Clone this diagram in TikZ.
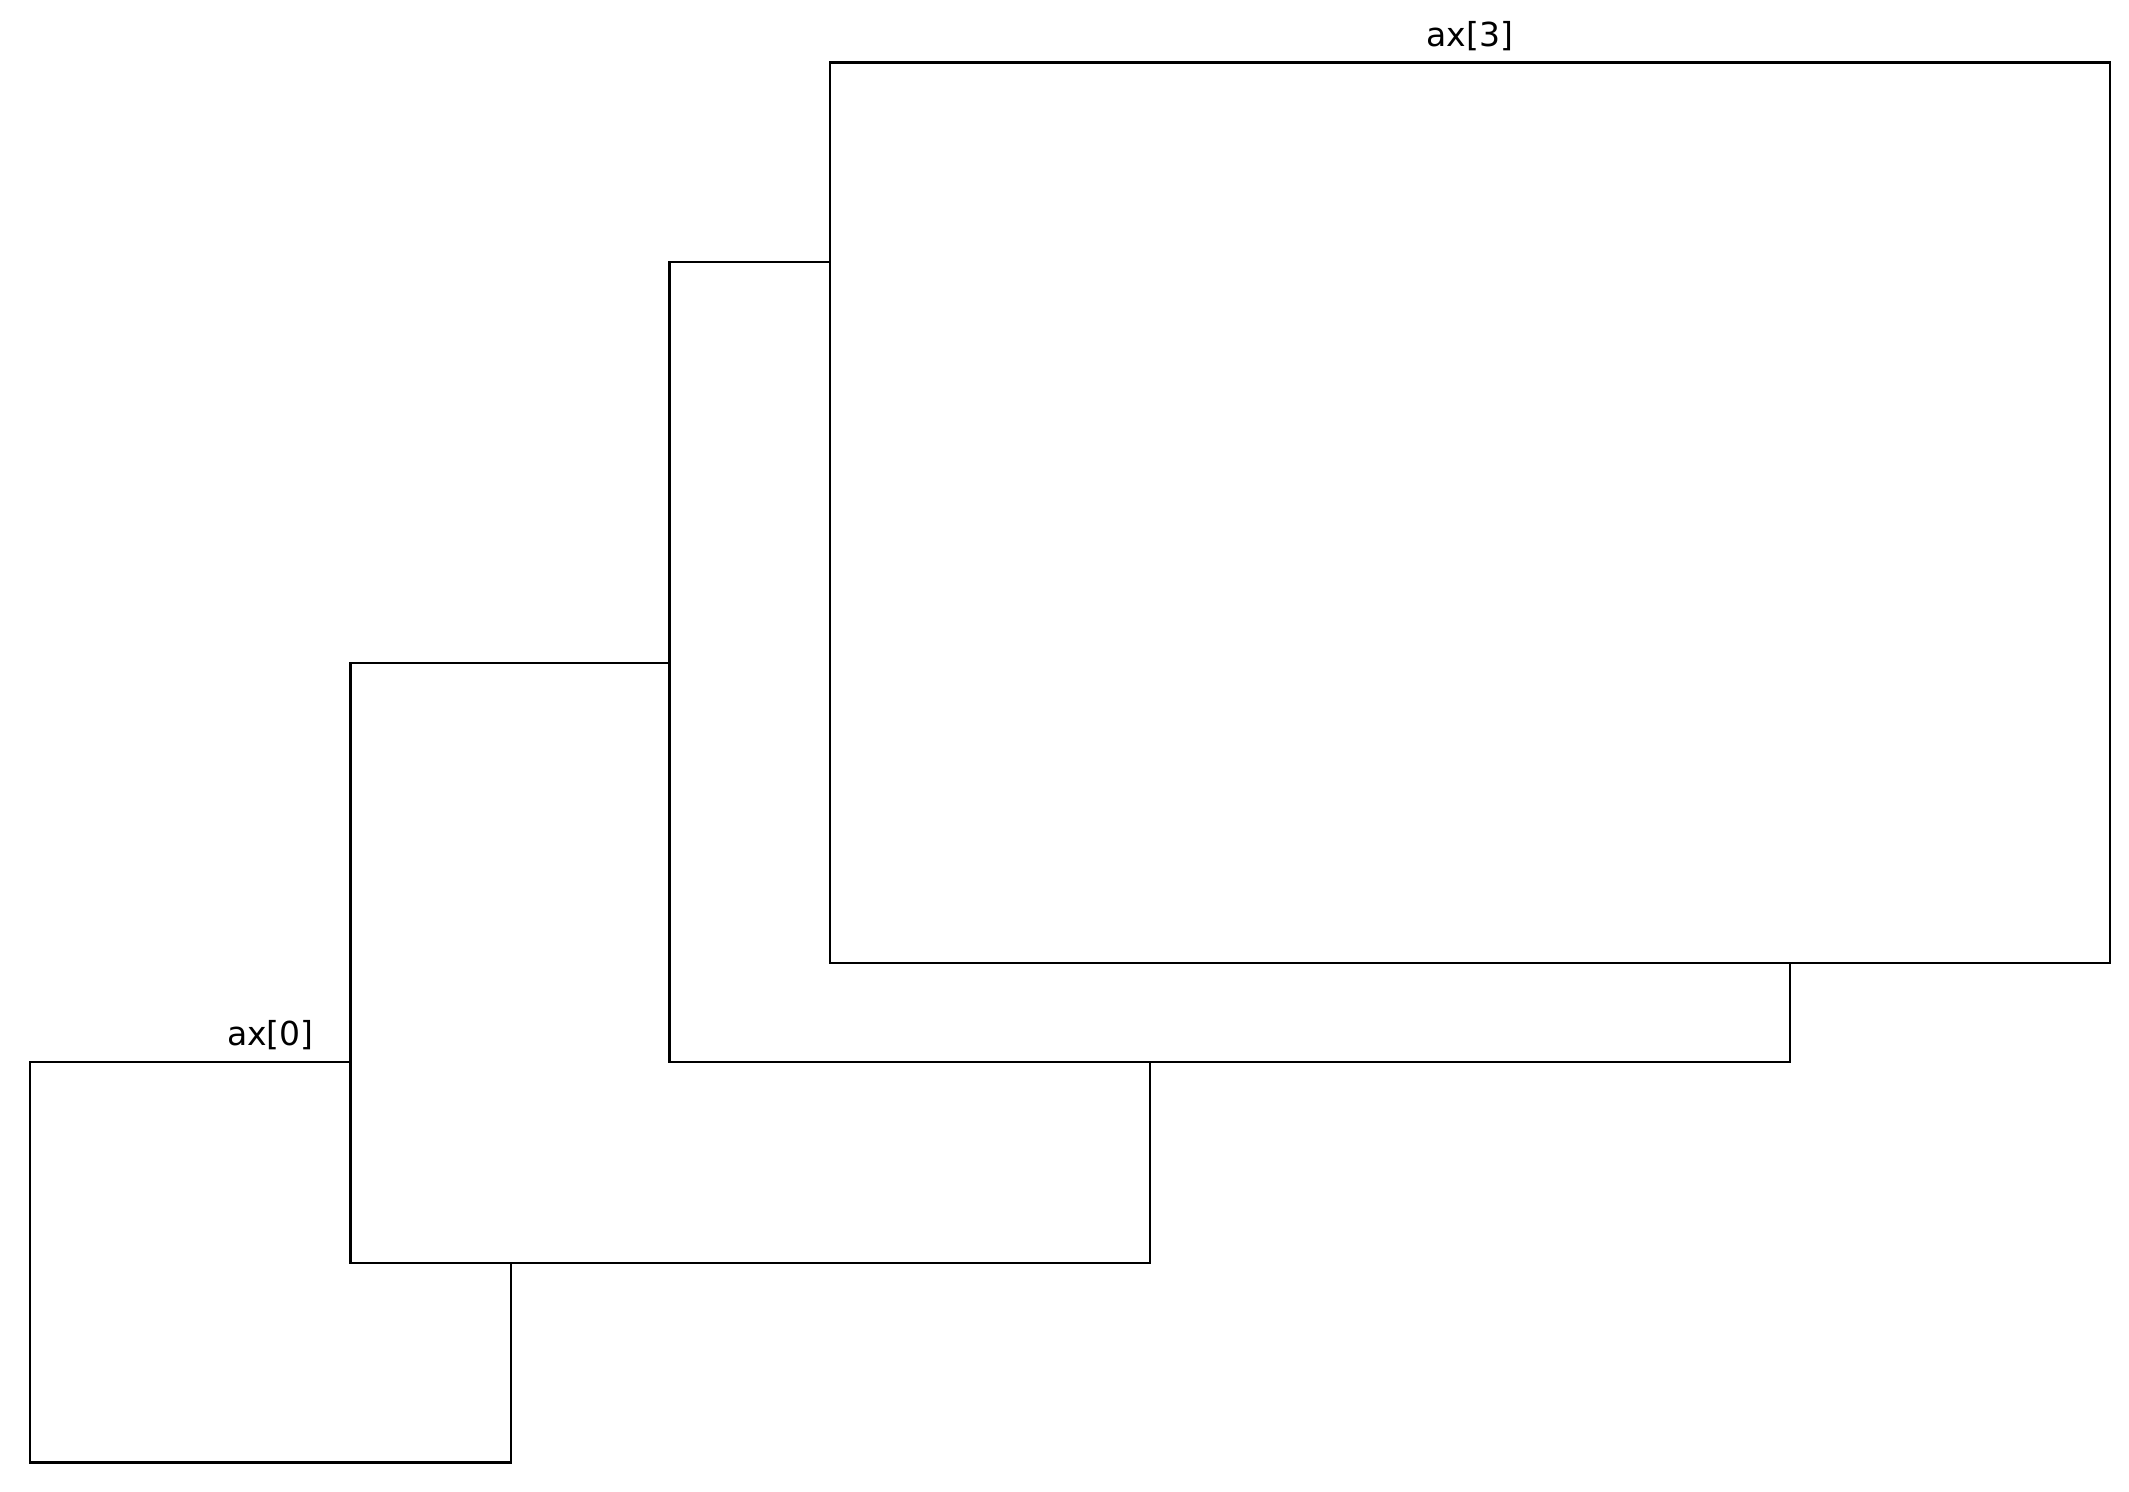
\documentclass[tikz,border=0pt]{standalone}
\usepackage{fontspec}
\setmainfont{DejaVu Sans}
\usetikzlibrary{positioning}
\usetikzlibrary{calc}

\begin{document}
\begin{tikzpicture}[
	axbox/.style={draw=black, fill=white, line width=0.7pt, rectangle, inner sep=0pt, anchor=north west},
	axtitle/.style={anchor=base, inner sep=0pt, font=\fontsize{9.4}{11}\selectfont}]
	\useasboundingbox (0,0) rectangle (21.29,14.92);
	% draw axes, back to front
	\node[axbox, minimum width=4.806cm, minimum height=4.005cm] (ax0) at (0.289,4.312) {};
	\node[axtitle] (title0) at ($(ax0.north)+(0,0.15)$) {ax[0]};
	\node[axbox, minimum width=7.997cm, minimum height=6.001cm] (ax1) at (3.493,8.304) {};
	\node[axbox, minimum width=11.202cm, minimum height=7.998cm] (ax2) at (6.684,12.31) {};
	\node[axbox, minimum width=12.804cm, minimum height=9.002cm] (ax3) at (8.286,14.305) {};
	% add title
	\node[axtitle] (title3) at ($(ax3.north)+(0,0.15)$) {ax[3]};
\end{tikzpicture}
\end{document}
